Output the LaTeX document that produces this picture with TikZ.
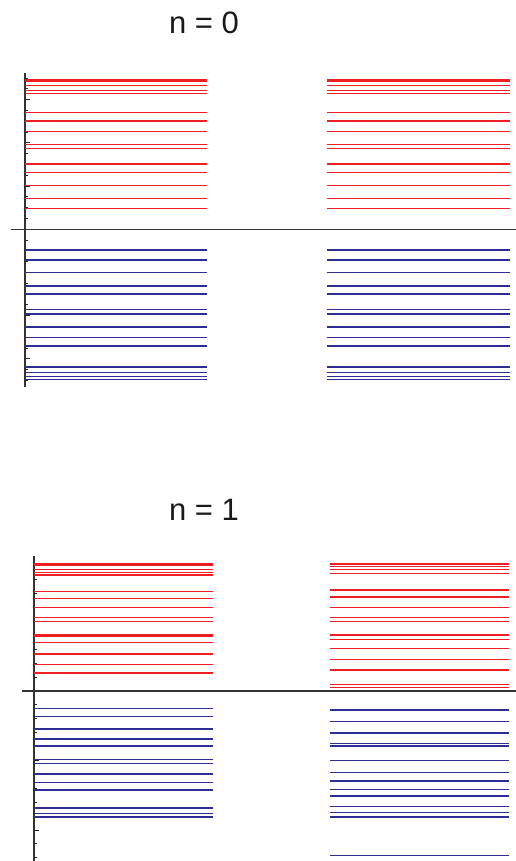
\documentclass[tikz,border=0pt]{standalone}
\usepackage{fontspec}
\setmainfont{Liberation Sans}
\definecolor{levred}{RGB}{238,30,34}
\definecolor{levblue}{RGB}{44,46,150}
\tikzset{
  level/.style={line width=1.25pt},
  axis/.style={line width=1.1pt, black!80},
  tick/.style={line width=0.9pt, black!85},
  title/.style={font=\fontsize{31}{36}\selectfont, text=black!90}
}
\begin{document}
\begin{tikzpicture}[x=1pt,y=-1pt]
    \useasboundingbox (0,0) rectangle (516,861);

    % n = 0
    \node[title] (t0) at (204,23) {n = 0};
    \draw[axis] (11,229.3) -- (516,229.3);
    \draw[axis] (25,73) -- (25,386.7);
    \foreach \k in {1,...,14} {
        \pgfmathsetmacro{\len}{ifthenelse(mod(\k,4)==0,4.5,3)}
        \draw[tick] (25,229.3-10.8*\k) -- ++(\len,0);
        \draw[tick] (25,229.3+10.8*\k) -- ++(\len,0);
    }
    \foreach \y in {80,81.5,85.7,90.7,93.3,112.3,121,131.3,144.3,148.7,164,172.3,185.7,198.3,208.7} {
        \draw[level, levred] (25,\y) -- (207,\y);
        \draw[level, levred] (326.7,\y) -- (510,\y);
    }
    \foreach \y in {250,260,272.7,286,294,294.8,309.7,314,327,337.3,346,366.3,367.2,372.3,376.7,379.7} {
        \draw[level, levblue] (25,\y) -- (207,\y);
        \draw[level, levblue] (326.7,\y) -- (510,\y);
    }

    % n = 1
    \node[title] (t1) at (204,510) {n = 1};
    \draw[axis] (21.7,691) -- (516,691);
    \draw[axis] (34,555.7) -- (34,861);
    \foreach \k in {1,...,9} {
        \pgfmathsetmacro{\len}{ifthenelse(mod(\k,5)==0,4.5,3)}
        \draw[tick] (34,691-13.9*\k) -- ++(\len,0);
    }
    \foreach \k in {1,...,12} {
        \pgfmathsetmacro{\len}{ifthenelse(mod(\k,5)==0,4.5,3)}
        \draw[tick] (34,691+13.9*\k) -- ++(\len,0);
    }
    \foreach \y in {564,565,569.7,572.3,575,591.3,598.3,607.3,617.7,621.7,635,636,642.3,654,664.3,673}
        \draw[level, levred] (34,\y) -- (213.3,\y);
    \foreach \y in {708.3,716.7,729,739,746,746.8,759.3,763.7,774,782.7,790,807.5,808.5,813.3,817}
        \draw[level, levblue] (34,\y) -- (213.3,\y);
    \foreach \y in {564,566.3,569.7,573.7,590,597,607.3,617.7,621.7,635,635.8,639.7,648.3,659.7,670,684.7,687.7}
        \draw[level, levred] (330,\y) -- (509,\y);
    \foreach \y in {710,721.7,733,743.3,746,760.7,772.3,781,789.7,796,806.7,812.3,817,855.7}
        \draw[level, levblue] (330,\y) -- (509,\y);
\end{tikzpicture}
\end{document}
